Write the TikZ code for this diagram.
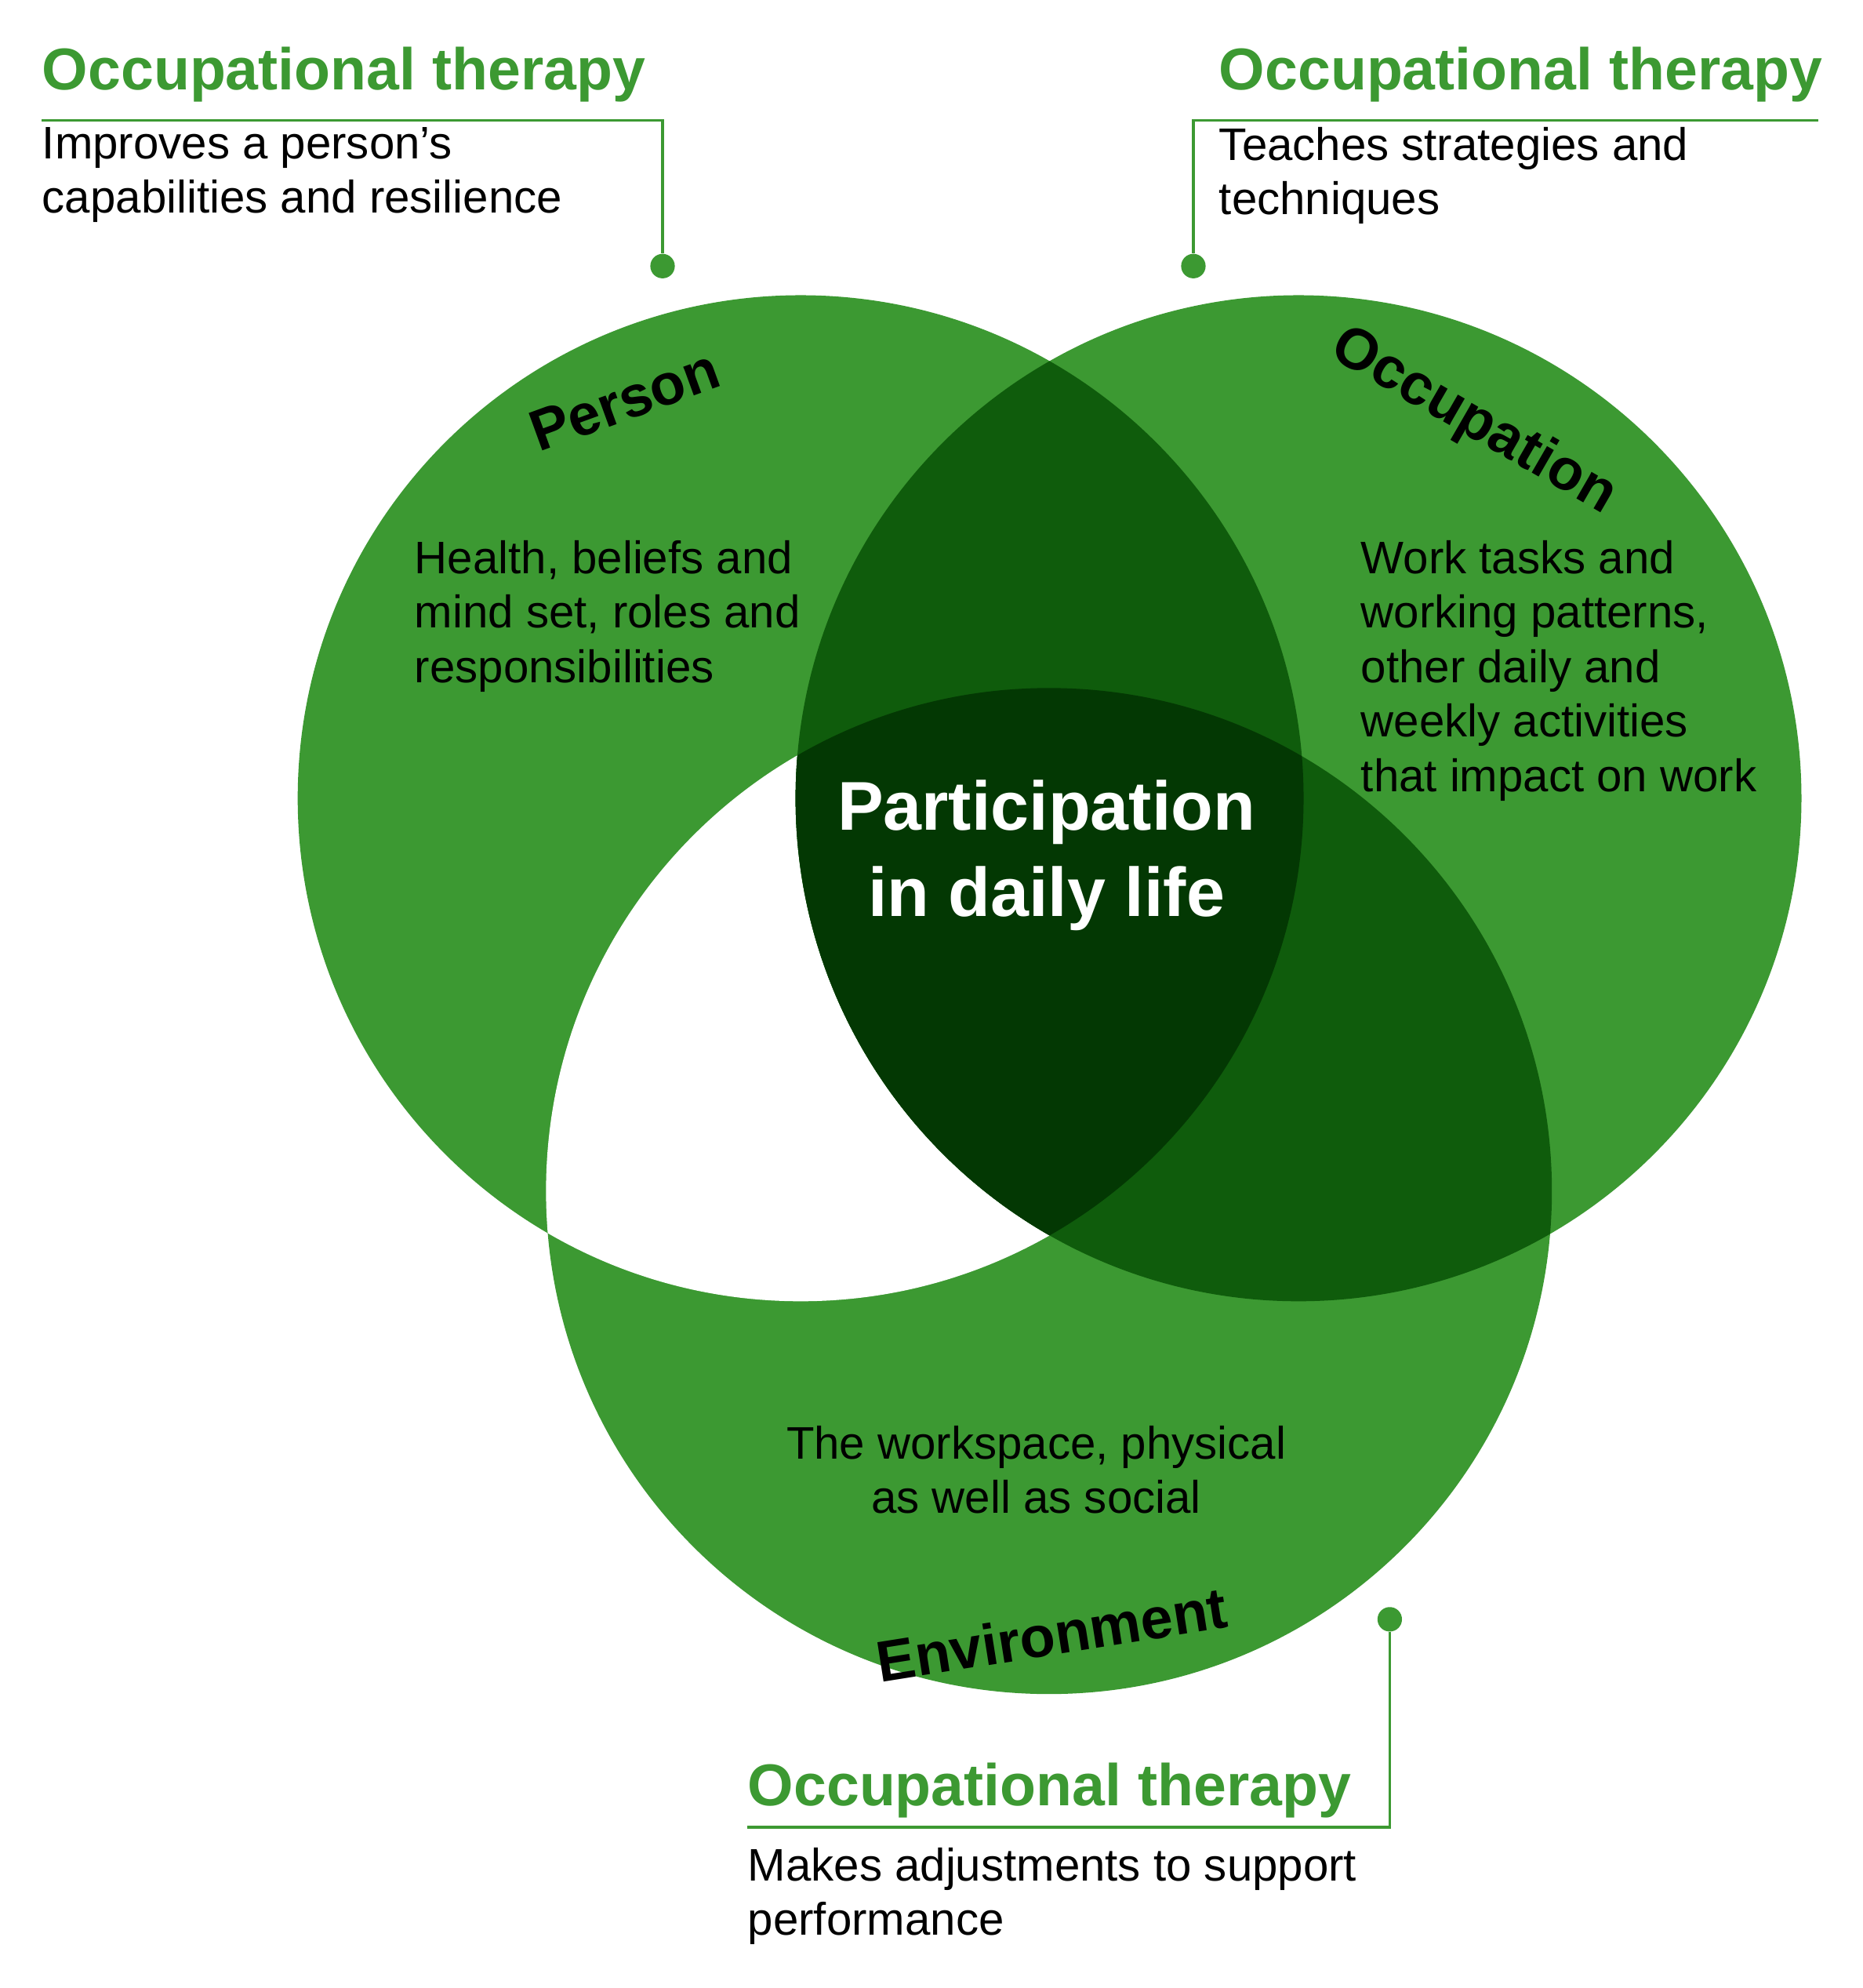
\documentclass[tikz,border=0pt]{standalone}
\usepackage{fontspec}
\setmainfont{Liberation Sans}
\definecolor{gA}{HTML}{3C9932}
\definecolor{gB}{HTML}{0F5C0C}
\definecolor{gC}{HTML}{033803}
\begin{document}
\begin{tikzpicture}[x=0.02cm,y=-0.02cm,
  head/.style={anchor=base west,font=\fontsize{26.5}{30}\selectfont\bfseries,text=gA,inner sep=0},
  body/.style={anchor=north west,font=\fontsize{20.5}{24.5}\selectfont,align=left,inner sep=0},
  lab/.style={font=\fontsize{26}{30}\selectfont\bfseries,inner sep=0},
  call/.style={draw=gA,line width=1.2pt},
  dotc/.style={circle,fill=gA,inner sep=0,minimum size=11pt}]
\fill[white] (0,0) rectangle (1470,1569);
\def\P{(632,630) circle (397)}
\def\O{(1025,630) circle (397)}
\def\E{(828,940) circle (397)}
\fill[gA] \P; \fill[gA] \O; \fill[gA] \E;
\begin{scope}\clip \P; \fill[white] \E; \end{scope}
\begin{scope}\clip \P; \fill[gB] \O; \end{scope}
\begin{scope}\clip \O; \fill[gB] \E; \end{scope}
\begin{scope}\clip \P; \clip \O; \fill[gC] \E; \end{scope}
\node[lab,rotate=20] (person) at (493,316) {Person};
\node[lab,rotate=-30] (occ) at (1163,333) {Occupation};
\node[lab,rotate=9] (env) at (830,1290) {Environment};
\node[body] (pt) at (327,426) {Health, beliefs and\\mind set, roles and\\responsibilities};
\node[body] (ot) at (1074,426) {Work tasks and\\working patterns,\\other daily and\\weekly activities\\that impact on work};
\node[body,align=center,anchor=north] (et) at (818,1125) {The workspace, physical\\as well as social};
\node[font=\fontsize{31}{39}\selectfont\bfseries,text=white,align=center] (mid) at (826,675) {Participation\\in daily life};
% callouts
\node[head] (h1) at (33,71) {Occupational therapy};
\node[body] (b1) at (33,100) {Improves a person’s\\capabilities and resilience};
\node[dotc] (d1) at (523,210) {};
\coordinate (c1a) at (33,95); \coordinate (c1b) at (523,95);
\draw[call] (c1a) -- (c1b) -- (d1);
\node[head] (h2) at (962,71) {Occupational therapy};
\node[body] (b2) at (962,100) {Teaches strategies and\\techniques};
\node[dotc] (d2) at (942,210) {};
\coordinate (c2a) at (1435,95); \coordinate (c2b) at (942,95);
\draw[call] (c2a) -- (c2b) -- (d2);
\node[head] (h3) at (590,1425) {Occupational therapy};
\node[body] (b3) at (590,1458) {Makes adjustments to support\\performance};
\node[dotc] (d3) at (1097,1278) {};
\coordinate (c3a) at (590,1442); \coordinate (c3b) at (1097,1442);
\draw[call] (c3a) -- (c3b) -- (d3);
\end{tikzpicture}
\end{document}
